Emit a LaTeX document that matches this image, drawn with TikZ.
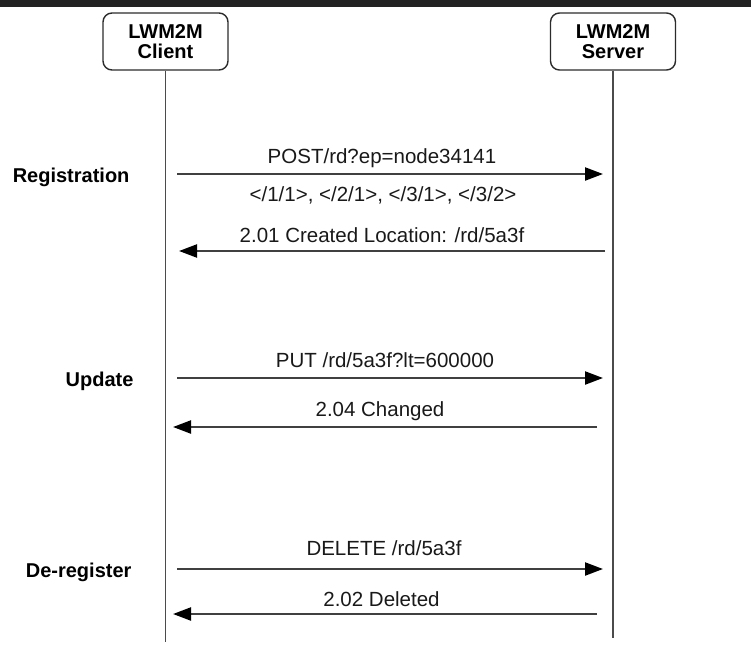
\documentclass[tikz,border=0pt]{standalone}
\usepackage{fontspec}
\setmainfont{Liberation Sans}
\usetikzlibrary{arrows.meta}
\definecolor{barcol}{HTML}{222222}
\definecolor{linecol}{HTML}{2B2B2B}
\tikzset{
  actor/.style={draw=linecol, line width=1.4pt, rounded corners=9pt,
    minimum width=125pt, minimum height=57pt, align=center,
    font=\fontsize{20}{20}\selectfont\bfseries},
  phase/.style={anchor=base east, font=\fontsize{20}{20}\selectfont\bfseries},
  msg/.style={anchor=base, text=black!90, font=\fontsize{20.5}{22}\selectfont},
  lifeline/.style={draw=linecol!85, line width=1.4pt},
  call/.style={draw=linecol!90, line width=2.2pt,
    -{Triangle[length=18pt,width=13pt,fill=black,color=black]}},
}
\begin{document}
\begin{tikzpicture}[x=1pt,y=-1pt]
    \useasboundingbox (0,0) rectangle (751,659);
    \fill[barcol] (0,0) rectangle (751,7);
    % participants
    \node[actor] at (165.5,41.5) (client) {LWM2M\\Client};
    \node[actor] at (613,41.5) (server) {LWM2M\\Server};
    \coordinate (clientend) at (165.5,642);
    \coordinate (serverend) at (613,638);
    \draw[lifeline] (client.south) -- (clientend);
    \draw[lifeline] (server.south) -- (serverend);
    % phases
    \node[phase] at (133,182) (reg) {Registration};
    \node[phase] at (137,386) (upd) {Update};
    \node[phase] at (135,577) (dereg) {De-register};
    % registration
    \coordinate (c1) at (177,174);
    \coordinate (s1) at (603,174);
    \coordinate (s2) at (605,251);
    \coordinate (c2) at (179,251);
    \node[msg] at (382,163) (post) {POST/rd?ep=node34141};
    \node[msg] at (383,201) (objs) {</1/1>, </2/1>, </3/1>, </3/2>};
    \node[msg] at (382,242) (created) {2.01 Created Location: /rd/5a3f};
    \draw[call] (c1) -- (s1);
    \draw[call] (s2) -- (c2);
    % update
    \coordinate (c3) at (177,378);
    \coordinate (s3) at (603,378);
    \coordinate (s4) at (597,427);
    \coordinate (c4) at (173,427);
    \node[msg] at (385,367) (put) {PUT /rd/5a3f?lt=600000};
    \node[msg] at (380,416) (changed) {2.04 Changed};
    \draw[call] (c3) -- (s3);
    \draw[call] (s4) -- (c4);
    % de-register
    \coordinate (c5) at (177,569);
    \coordinate (s5) at (603,569);
    \coordinate (s6) at (597,614);
    \coordinate (c6) at (173,614);
    \node[msg] at (384,555) (delete) {DELETE /rd/5a3f};
    \node[msg] at (381.5,606) (deleted) {2.02 Deleted};
    \draw[call] (c5) -- (s5);
    \draw[call] (s6) -- (c6);
\end{tikzpicture}
\end{document}
